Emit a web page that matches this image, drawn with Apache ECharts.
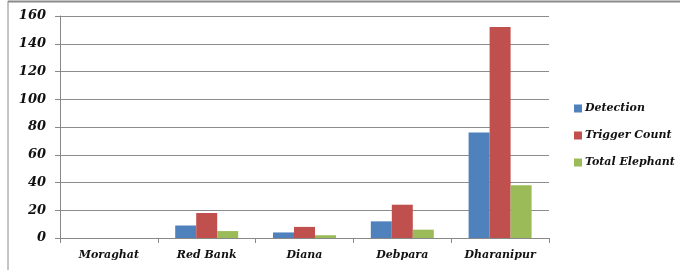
<!DOCTYPE html>
<html>
<head>
<meta charset="utf-8">
<script src="https://cdn.jsdelivr.net/npm/echarts@6/dist/echarts.min.js"></script>
<style>
  html, body { margin: 0; padding: 0; background: #fff; }
  #chart { width: 680px; height: 270px; }
</style>
</head>
<body>
<div id="chart"></div>
<script>
const categories = ['Moraghat', 'Red Bank', 'Diana', 'Debpara', 'Dharanipur']
const detection = [0, 9, 4, 12, 76]
const triggerCount = [0, 18, 8, 24, 152]
const totalElephant = [0, 5, 2, 6, 38]
const yTicks = [0, 20, 40, 60, 80, 100, 120, 140, 160]

const font = '"DejaVu Serif", serif'
const chart = echarts.init(document.getElementById('chart'))

const bar = (name, data, color) => ({
  name: name,
  type: 'bar',
  data: data,
  barWidth: 21,
  barGap: '0%',
  itemStyle: { color: color },
  animation: false
})

chart.setOption({
  backgroundColor: '#fff',
  animation: false,
  graphic: [
    { type: 'line', shape: { x1: 8, y1: 1.5, x2: 680, y2: 1.5 }, style: { stroke: '#8a8a8a', lineWidth: 2 } },
    { type: 'line', shape: { x1: 8, y1: 1, x2: 8, y2: 270 }, style: { stroke: '#8a8a8a', lineWidth: 1 } }
  ],
  grid: { left: 60, right: 131, top: 16, bottom: 32 },
  legend: {
    orient: 'vertical',
    left: 569,
    top: 98,
    itemWidth: 8,
    itemHeight: 8,
    itemGap: 16,
    icon: 'rect',
    textStyle: { fontFamily: font, fontStyle: 'italic', fontWeight: 'bold', fontSize: 11, color: '#111', padding: [0, 0, 0, -2] },
    data: ['Detection', 'Trigger Count', 'Total Elephant']
  },
  xAxis: {
    type: 'category',
    data: categories,
    axisLine: { lineStyle: { color: '#888', width: 1 } },
    axisTick: { show: true, length: 5, lineStyle: { color: '#888' } },
    axisLabel: { fontFamily: font, fontStyle: 'italic', fontWeight: 'bold', fontSize: 11, color: '#111', margin: 12 }
  },
  yAxis: {
    type: 'value',
    min: yTicks[0],
    max: yTicks[yTicks.length - 1],
    interval: 20,
    axisLine: { show: true, lineStyle: { color: '#888', width: 1 } },
    axisTick: { show: true, length: 5, lineStyle: { color: '#888' } },
    splitLine: { lineStyle: { color: '#8c8c8c', width: 1 } },
    axisLabel: { fontFamily: font, fontStyle: 'italic', fontWeight: 'bold', fontSize: 13, color: '#111', margin: 14 }
  },
  series: [
    bar('Detection', detection, '#4f81bd'),
    bar('Trigger Count', triggerCount, '#c0504d'),
    bar('Total Elephant', totalElephant, '#9bbb59')
  ]
})
</script>
</body>
</html>
